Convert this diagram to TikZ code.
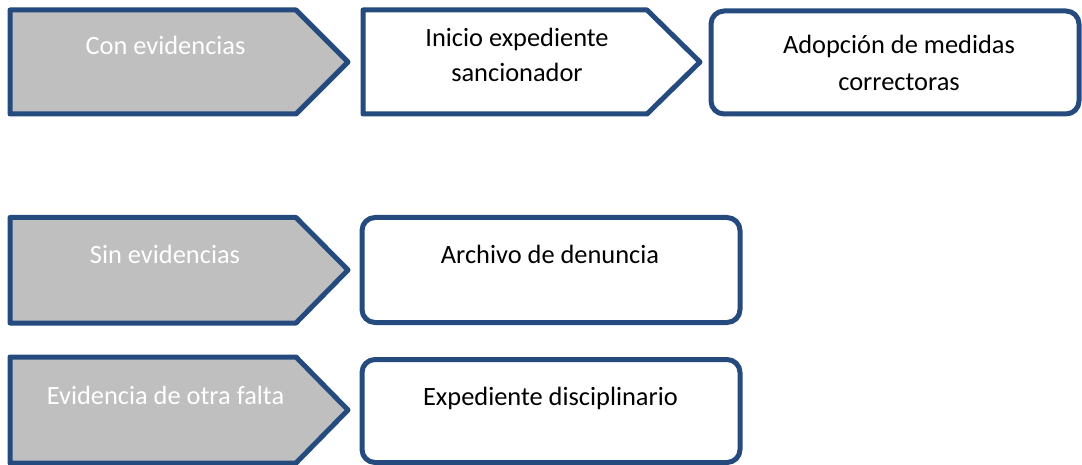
\documentclass[tikz,border=0pt]{standalone}
\usepackage{fontspec}
\setmainfont{Carlito}
\definecolor{edge}{RGB}{36,74,126}
\definecolor{shade}{RGB}{191,191,191}
\tikzset{
  outline/.style={draw=edge, line width=5pt, line join=round},
  graybox/.style={outline, fill=shade},
  whitebox/.style={outline, fill=white},
  roundbox/.style={outline, fill=white, rounded corners=13pt},
  lbl/.style={anchor=base, inner sep=0pt, font=\fontsize{26.4}{35}\selectfont, align=center},
  wlbl/.style={lbl, text=white},
  blbl/.style={lbl, text=black}
}
\begin{document}
\begin{tikzpicture}[x=1pt,y=-1pt]
\useasboundingbox (0,0) rectangle (1082,465);
% row 1
\draw[graybox] (10,10) -- (296,10) -- (348,62) -- (296,114) -- (10,114) -- cycle;
\draw[whitebox] (363,10) -- (647,10) -- (700,62) -- (647,114) -- (363,114) -- cycle;
\draw[roundbox] (711,11) rectangle (1079,114);
\node[wlbl] (con) at (165.5,55) {Con evidencias};
\node[blbl] (inicio1) at (517,46.7) {Inicio expediente};
\node[blbl] (inicio2) at (517,82) {sancionador};
\node[blbl] (adop1) at (899,54) {Adopción de medidas};
\node[blbl] (adop2) at (899,90.5) {correctoras};
% row 2
\draw[graybox] (10,217.5) -- (296,217.5) -- (348,270) -- (296,323) -- (10,323) -- cycle;
\draw[roundbox] (362,217.5) rectangle (740,322.5);
\node[wlbl] (sin) at (165,264) {Sin evidencias};
\node[blbl] (arch) at (550,264) {Archivo de denuncia};
% row 3
\draw[graybox] (10,357) -- (296,357) -- (348,410) -- (296,463) -- (10,463) -- cycle;
\draw[roundbox] (362,359.5) rectangle (740,462.5);
\node[wlbl] (otra) at (165.5,404) {Evidencia de otra falta};
\node[blbl] (disc) at (550.5,405) {Expediente disciplinario};
\end{tikzpicture}
\end{document}
